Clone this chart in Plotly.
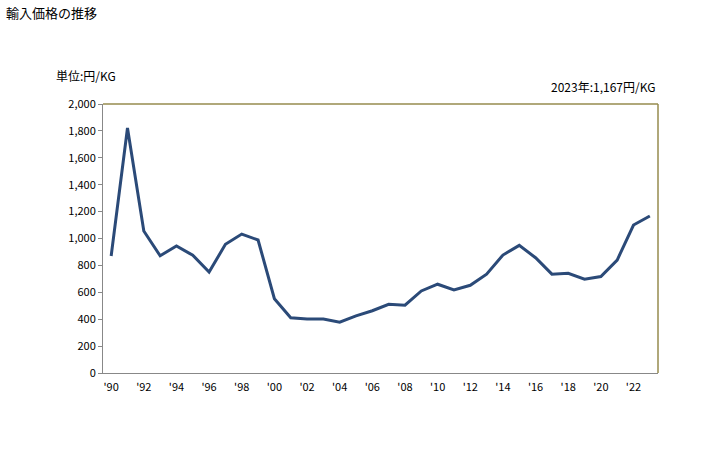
import plotly.graph_objects as go

years = list(range(1990, 2024))
values = [870, 1822, 1056, 872, 944, 875, 750, 957, 1033, 989,
          552, 411, 401, 401, 378, 425, 463, 511, 504, 610,
          660, 617, 652, 735, 877, 949, 857, 735, 741, 698,
          717, 840, 1100, 1167]
y_ticks = list(range(0, 2001, 200))
y_tick_labels = [f"{v:,}" for v in y_ticks]
x_ticks = list(range(1990, 2024, 2))
x_tick_labels = [f"'{y % 100:02d}" for y in x_ticks]

font_family = "Noto Sans CJK JP, DejaVu Sans, sans-serif"

L, R, T, B = 103, 70, 104, 77
PW, PH = 728 - L - R, 450 - T - B

def px(x):
    return (x - L) / PW

def py(y):
    return (450 - B - y) / PH

fig = go.Figure()
fig.add_trace(go.Scatter(
    x=years, y=values, mode="lines",
    line=dict(color="#2b4a78", width=3),
    hoverinfo="x+y", showlegend=False,
))

fig.update_layout(
    width=728, height=450,
    margin=dict(l=L, r=R, t=T, b=B),
    paper_bgcolor="white", plot_bgcolor="white",
    font=dict(family=font_family, size=11, color="#000000"),
    xaxis=dict(
        range=[1989.5, 2023.5], tickmode="array",
        tickvals=x_ticks, ticktext=x_tick_labels,
        showgrid=False, zeroline=False,
        showline=True, linecolor="#888888", linewidth=1,
        ticks="", tickfont=dict(size=11), ticklabelstandoff=4,
    ),
    yaxis=dict(
        range=[0, 2000], tickmode="array",
        tickvals=y_ticks, ticktext=y_tick_labels,
        showgrid=False, zeroline=False,
        showline=True, linecolor="#888888", linewidth=1,
        ticks="outside", ticklen=4, tickcolor="#888888",
        tickfont=dict(size=11),
    ),
    shapes=[
        dict(type="line", xref="paper", yref="paper", x0=0, x1=1, y0=1, y1=1,
             line=dict(color="#968b4e", width=1.5)),
        dict(type="line", xref="paper", yref="paper", x0=1, x1=1, y0=0, y1=1,
             line=dict(color="#968b4e", width=1.5)),
    ],
    annotations=[
        dict(text="輸入価格の推移", xref="paper", yref="paper",
             x=px(4), y=py(12),
             xanchor="left", yanchor="middle", showarrow=False,
             font=dict(size=13)),
        dict(text="単位:円/KG", xref="paper", yref="paper",
             x=px(54), y=py(75),
             xanchor="left", yanchor="middle", showarrow=False,
             font=dict(size=12)),
        dict(text="2023年:1,167円/KG", xref="paper", yref="paper",
             x=px(657), y=py(87),
             xanchor="right", yanchor="middle", showarrow=False,
             font=dict(size=12)),
    ],
)

fig.write_html("out.html", config={"displayModeBar": False},
               post_script="document.body.style.margin='0';")
